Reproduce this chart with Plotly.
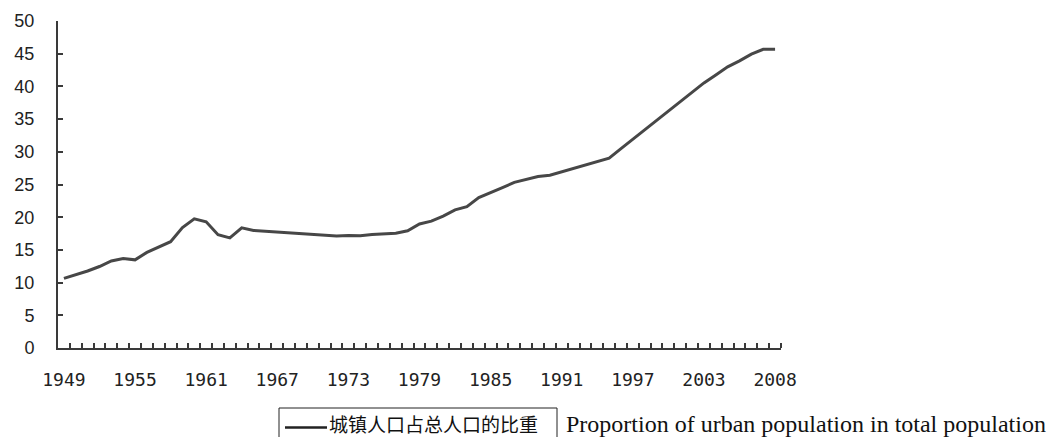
import plotly.graph_objects as go

# Urban population as a share of total population (%), one value per category
urban_share = [
    10.64, 11.18, 11.78, 12.46, 13.31, 13.69, 13.48, 14.62, 15.39, 16.25,
    18.41, 19.75, 19.29, 17.33, 16.84, 18.37, 17.98, 17.86, 17.74, 17.62,
    17.50, 17.38, 17.26, 17.13, 17.20, 17.16, 17.34, 17.44, 17.55, 17.92,
    18.96, 19.39, 20.16, 21.13, 21.62, 23.01, 23.71, 24.52, 25.32, 25.81,
    26.21, 26.41, 26.94, 27.46, 27.99, 28.51, 29.04, 30.48, 31.91, 33.35,
    34.78, 36.22, 37.66, 39.09, 40.53, 41.76, 42.99, 43.90, 44.94, 45.68,
    45.68,
]
tick_labels = ["1949", "1955", "1961", "1967", "1973", "1979",
               "1985", "1991", "1997", "2003", "2008"]
tick_positions = [0, 6, 12, 18, 24, 30, 36, 42, 48, 54, 60]
series_name = "城镇人口占总人口的比重"
caption = "Proportion of urban population in total population"

W, H = 1059, 437
L, R, T, B = 58, 278, 21, 89
plot_w = W - L - R
plot_h = H - T - B


def px_x(px):
    return (px - L) / plot_w


def px_y(py):
    return (H - B - py) / plot_h


n = len(urban_share)
x_idx = list(range(n))

fig = go.Figure()
fig.add_trace(go.Scatter(
    x=x_idx, y=urban_share, mode="lines", name=series_name,
    line=dict(color="#474747", width=3), showlegend=False,
))

axis_color = "#3a3a3a"
fig.update_xaxes(
    range=[-0.5, n - 0.5],
    tickmode="array", tickvals=tick_positions, ticktext=tick_labels,
    ticks="", showgrid=False, zeroline=False,
    showline=True, linecolor=axis_color, linewidth=2,
    tickfont=dict(family="DejaVu Sans Mono", size=18, color="#222"),
    ticklabelstandoff=14,
    minor=dict(tickmode="array", tickvals=[k + 0.5 for k in range(n)],
               ticks="inside", ticklen=5, tickwidth=1.5, tickcolor=axis_color,
               showgrid=False),
)
fig.update_yaxes(
    range=[0, 50], dtick=5, tick0=0,
    ticks="inside", ticklen=5, tickwidth=1.5, tickcolor=axis_color,
    showgrid=False, zeroline=False,
    showline=True, linecolor=axis_color, linewidth=2,
    tickfont=dict(family="Liberation Sans", size=18, color="#222"),
    ticklabelstandoff=18,
)

# Legend box with line sample and series name
fig.add_shape(type="rect", xref="paper", yref="paper",
              x0=px_x(279), x1=px_x(557), y0=px_y(446), y1=px_y(408),
              line=dict(color="#222", width=1), fillcolor="white", layer="above")
fig.add_shape(type="line", xref="paper", yref="paper",
              x0=px_x(285), x1=px_x(327), y0=px_y(427.5), y1=px_y(427.5),
              line=dict(color="#222", width=2.5))
fig.add_annotation(text=series_name, xref="paper", yref="paper",
                   x=px_x(328), y=px_y(423), xanchor="left", yanchor="middle",
                   showarrow=False, borderpad=0,
                   font=dict(family="Noto Sans CJK SC", size=19, color="#111"))
fig.add_annotation(text=caption, xref="paper", yref="paper",
                   x=px_x(565), y=px_y(424), xanchor="left", yanchor="middle",
                   showarrow=False, borderpad=0,
                   font=dict(family="Liberation Serif", size=24, color="#111"))

fig.update_layout(
    width=W, height=H,
    margin=dict(l=L, r=R, t=T, b=B, autoexpand=False),
    paper_bgcolor="white", plot_bgcolor="white",
)

fig.write_html("out.html")
